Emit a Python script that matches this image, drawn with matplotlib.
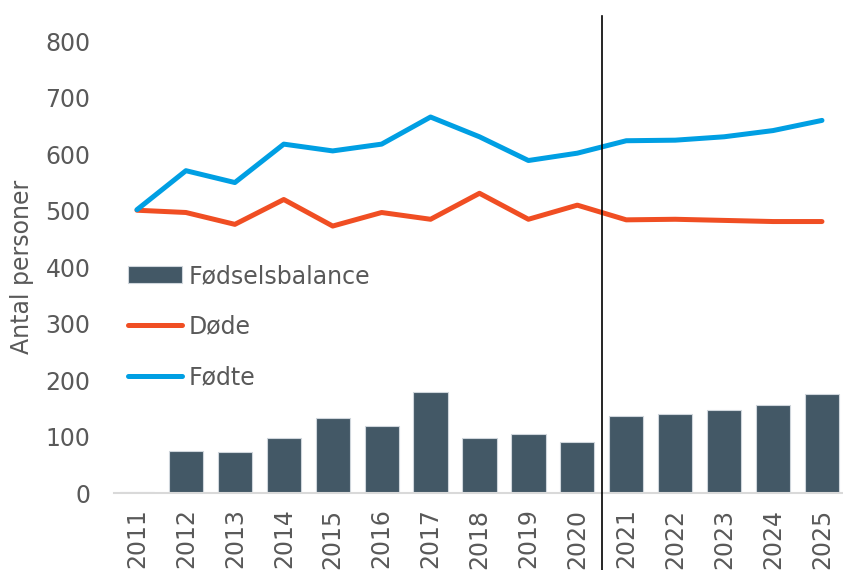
import matplotlib.pyplot as plt
import numpy as np

# data
years = ['2011', '2012', '2013', '2014', '2015', '2016', '2017', '2018',
         '2019', '2020', '2021', '2022', '2023', '2024', '2025']
balance = [2, 74, 73, 97, 133, 119, 180, 97, 105, 90, 137, 140, 147, 156, 175]
doede = [501, 497, 476, 520, 473, 497, 485, 531, 485, 510, 484, 485, 483, 481, 481]
foedte = [502, 571, 550, 618, 606, 618, 666, 631, 589, 602, 624, 625, 631, 642, 660]

GREY = '#595959'
BAR = '#435866'
RED = '#f04e23'
BLUE = '#009fe3'
FS = 17

plt.rcParams['font.family'] = ['DejaVu Sans']

fig = plt.figure(figsize=(8.43, 5.7), dpi=100)
ax = fig.add_axes([114 / 843, 76.7 / 570, 729 / 843, 452 / 570])

x = np.arange(len(years))
bars = ax.bar(x, balance, width=0.7, color=BAR, edgecolor='#cfd6dc', linewidth=0.8,
              label='Fødselsbalance', zorder=2)
l1, = ax.plot(x, doede, color=RED, lw=3.6, label='Døde', zorder=3,
              solid_capstyle='round', solid_joinstyle='round')
l2, = ax.plot(x, foedte, color=BLUE, lw=3.6, label='Fødte', zorder=3,
              solid_capstyle='round', solid_joinstyle='round')

ax.set_xlim(-0.47, 14.43)
ax.set_ylim(0, 800)
ax.set_yticks(range(0, 801, 100))
ax.set_xticks(x)
ax.set_xticklabels(years, rotation=90)

for s in ['top', 'right', 'left']:
    ax.spines[s].set_visible(False)
ax.spines['bottom'].set_color('#d9d9d9')
ax.spines['bottom'].set_linewidth(1.5)
ax.tick_params(axis='both', length=0, labelsize=FS, labelcolor=GREY)
ax.tick_params(axis='y', pad=17)
ax.tick_params(axis='x', pad=11)

ax.set_ylabel('Antal personer', fontsize=FS, color=GREY)
ax.yaxis.set_label_coords(-0.11, 0.5)

# separator between observed and projected years
ax.plot([9.5, 9.5], [-0.25, 1.055], color='black', lw=1.2,
        transform=ax.get_xaxis_transform(), clip_on=False, zorder=4)

leg = ax.legend([bars, l1, l2], ['Fødselsbalance', 'Døde', 'Fødte'],
                loc='upper left', bbox_to_anchor=(128 / 843, 1 - 264 / 570),
                bbox_transform=fig.transFigure, frameon=False, fontsize=FS,
                handlelength=2.3, handletextpad=0.25, labelspacing=1.13,
                borderpad=0, borderaxespad=0)
for t in leg.get_texts():
    t.set_color(GREY)

fig.savefig('out.png', dpi=100)
